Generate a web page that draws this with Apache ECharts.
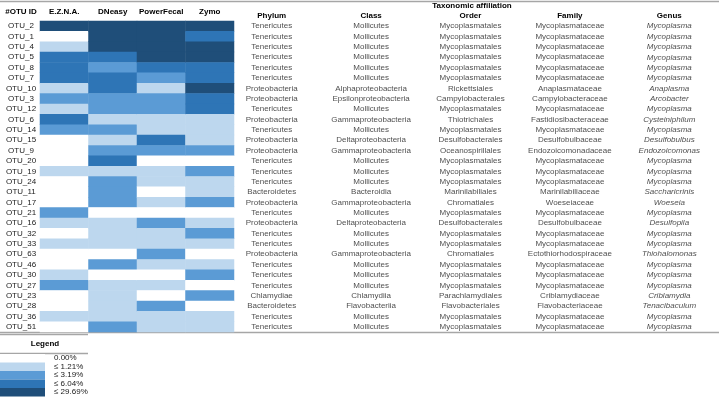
<!DOCTYPE html>
<html>
<head>
<meta charset="utf-8">
<script src="https://cdn.jsdelivr.net/npm/echarts@6/dist/echarts.min.js"></script>
<style>
	html, body { margin : 0; padding : 0; background : #fff; }
	#otu-chart { width : 719px; height : 402px; }
</style>
</head>
<body>
<div id="otu-chart"></div>
<script>
// rows of the table, top to bottom
var otuIds = ['OTU_2', 'OTU_1', 'OTU_4', 'OTU_5', 'OTU_8', 'OTU_7', 'OTU_10', 'OTU_3', 'OTU_12', 'OTU_6',
	'OTU_14', 'OTU_15', 'OTU_9', 'OTU_20', 'OTU_19', 'OTU_24', 'OTU_11', 'OTU_17', 'OTU_21', 'OTU_16',
	'OTU_32', 'OTU_33', 'OTU_63', 'OTU_46', 'OTU_30', 'OTU_27', 'OTU_23', 'OTU_28', 'OTU_36', 'OTU_51'];
var kitNames = ['E.Z.N.A.', 'DNeasy', 'PowerFecal', 'Zymo'];

// abundance class per OTU (0 = 0.00% ... 4 = <= 29.69%)
var eznaLevels = [4, 0, 1, 3, 3, 3, 1, 2, 1, 3, 2, 0, 0, 0, 1, 0, 0, 0, 2, 1, 0, 1, 0, 0, 1, 2, 0, 0, 1, 0];
var dneasyLevels = [4, 4, 4, 3, 2, 3, 3, 2, 2, 1, 2, 1, 2, 3, 1, 2, 2, 2, 0, 1, 1, 1, 0, 2, 0, 1, 1, 1, 1, 2];
var powerFecalLevels = [4, 4, 4, 4, 3, 2, 1, 2, 2, 1, 1, 3, 2, 0, 1, 1, 0, 1, 0, 2, 1, 1, 2, 1, 0, 1, 0, 2, 1, 1];
var zymoLevels = [4, 3, 4, 4, 3, 3, 4, 3, 3, 1, 1, 1, 2, 0, 2, 1, 1, 2, 0, 1, 2, 1, 0, 1, 2, 0, 2, 0, 1, 1];
var levelLabels = ['0.00%', '≤ 1.21%', '≤ 3.19%', '≤ 6.04%', '≤ 29.69%'];

var taxHeaders = ['Phylum', 'Class', 'Order', 'Family', 'Genus'];
var phylum = ['Tenericutes', 'Tenericutes', 'Tenericutes', 'Tenericutes', 'Tenericutes', 'Tenericutes',
	'Proteobacteria', 'Proteobacteria', 'Tenericutes', 'Proteobacteria', 'Tenericutes', 'Proteobacteria',
	'Proteobacteria', 'Tenericutes', 'Tenericutes', 'Tenericutes', 'Bacteroidetes', 'Proteobacteria',
	'Tenericutes', 'Proteobacteria', 'Tenericutes', 'Tenericutes', 'Proteobacteria', 'Tenericutes',
	'Tenericutes', 'Tenericutes', 'Chlamydiae', 'Bacteroidetes', 'Tenericutes', 'Tenericutes'];
var taxClass = ['Mollicutes', 'Mollicutes', 'Mollicutes', 'Mollicutes', 'Mollicutes', 'Mollicutes',
	'Alphaproteobacteria', 'Epsilonproteobacteria', 'Mollicutes', 'Gammaproteobacteria', 'Mollicutes',
	'Deltaproteobacteria', 'Gammaproteobacteria', 'Mollicutes', 'Mollicutes', 'Mollicutes', 'Bacteroidia',
	'Gammaproteobacteria', 'Mollicutes', 'Deltaproteobacteria', 'Mollicutes', 'Mollicutes',
	'Gammaproteobacteria', 'Mollicutes', 'Mollicutes', 'Mollicutes', 'Chlamydiia', 'Flavobacteriia',
	'Mollicutes', 'Mollicutes'];
var order = ['Mycoplasmatales', 'Mycoplasmatales', 'Mycoplasmatales', 'Mycoplasmatales', 'Mycoplasmatales',
	'Mycoplasmatales', 'Rickettsiales', 'Campylobacterales', 'Mycoplasmatales', 'Thiotrichales',
	'Mycoplasmatales', 'Desulfobacterales', 'Oceanospirillales', 'Mycoplasmatales', 'Mycoplasmatales',
	'Mycoplasmatales', 'Marinilabiliales', 'Chromatiales', 'Mycoplasmatales', 'Desulfobacterales',
	'Mycoplasmatales', 'Mycoplasmatales', 'Chromatiales', 'Mycoplasmatales', 'Mycoplasmatales',
	'Mycoplasmatales', 'Parachlamydiales', 'Flavobacteriales', 'Mycoplasmatales', 'Mycoplasmatales'];
var family = ['Mycoplasmataceae', 'Mycoplasmataceae', 'Mycoplasmataceae', 'Mycoplasmataceae', 'Mycoplasmataceae',
	'Mycoplasmataceae', 'Anaplasmataceae', 'Campylobacteraceae', 'Mycoplasmataceae', 'Fastidiosibacteraceae',
	'Mycoplasmataceae', 'Desulfobulbaceae', 'Endozoicomonadaceae', 'Mycoplasmataceae', 'Mycoplasmataceae',
	'Mycoplasmataceae', 'Marinilabiliaceae', 'Woeseiaceae', 'Mycoplasmataceae', 'Desulfobulbaceae',
	'Mycoplasmataceae', 'Mycoplasmataceae', 'Ectothiorhodospiraceae', 'Mycoplasmataceae', 'Mycoplasmataceae',
	'Mycoplasmataceae', 'Criblamydiaceae', 'Flavobacteriaceae', 'Mycoplasmataceae', 'Mycoplasmataceae'];
var genus = ['Mycoplasma', 'Mycoplasma', 'Mycoplasma', 'Mycoplasma', 'Mycoplasma', 'Mycoplasma',
	'Anaplasma', 'Arcobacter', 'Mycoplasma', 'Cysteiniphilum', 'Mycoplasma', 'Desulfobulbus',
	'Endozoicomonas', 'Mycoplasma', 'Mycoplasma', 'Mycoplasma', 'Saccharicrinis', 'Woeseia', 'Mycoplasma',
	'Desulfopila', 'Mycoplasma', 'Mycoplasma', 'Thiohalomonas', 'Mycoplasma', 'Mycoplasma', 'Mycoplasma',
	'Criblamydia', 'Tenacibaculum', 'Mycoplasma', 'Mycoplasma'];

var levelColors = ['#ffffff', '#bdd7ee', '#5b9bd5', '#2e75b6', '#1f4e79'];
var fontName = 'Liberation Sans';
var fontSize = 8;
var ruleColor = '#a6a6a6';

var kitLevels = [eznaLevels, dneasyLevels, powerFecalLevels, zymoLevels];
var heatData = [];
for (var k = 0; k < kitLevels.length; k++) {
	for (var i = 0; i < otuIds.length; i++) {
		heatData.push([k, i, kitLevels[k][i]]);
	}
}

var taxColumns = [phylum, taxClass, order, family, genus];
var taxSeries = [];
for (var c = 0; c < taxColumns.length; c++) {
	var items = [];
	for (var i = 0; i < otuIds.length; i++) {
		items.push({ name : taxColumns[c][i], value : [c, i] });
	}
	taxSeries.push({
		type : 'scatter',
		xAxisIndex : 1,
		yAxisIndex : 1,
		symbolSize : 0,
		silent : true,
		data : items,
		label : {
			show : true,
			position : 'inside',
			formatter : '{b}',
			color : '#1a1a1a',
			fontFamily : fontName,
			fontSize : fontSize,
			fontStyle : c == 4 ? 'italic' : 'normal'
		}
	});
}

var pieces = [];
for (var p = 0; p < levelLabels.length; p++) {
	pieces.push({ value : p, label : levelLabels[p], color : levelColors[p] });
}

function hline(y, x1, x2) {
	return {
		type : 'line',
		shape : { x1 : x1, y1 : y, x2 : x2, y2 : y },
		style : { stroke : ruleColor, lineWidth : 1.5 }
	};
}
function headText(str, x, y) {
	return {
		type : 'text',
		x : x,
		y : y,
		style : {
			text : str,
			fill : '#000',
			font : 'bold ' + fontSize + 'px ' + fontName,
			align : 'center',
			verticalAlign : 'middle'
		}
	};
}

var chart = echarts.init(document.getElementById('otu-chart'));
var option = {
	animation : false,
	grid : [
		{ left : 40, top : 21, width : 194, height : 311 },
		{ left : 222, top : 21, right : -3, height : 311 }
	],
	xAxis : [
		{
			type : 'category',
			gridIndex : 0,
			position : 'top',
			data : kitNames,
			axisLine : { show : false },
			axisTick : { show : false },
			axisLabel : { interval : 0, margin : 5, color : '#000', fontWeight : 'bold', fontFamily : fontName, fontSize : fontSize }
		},
		{
			type : 'category',
			gridIndex : 1,
			position : 'top',
			data : taxHeaders,
			axisLine : { show : false },
			axisTick : { show : false },
			axisLabel : { interval : 0, margin : 1, color : '#000', fontWeight : 'bold', fontFamily : fontName, fontSize : fontSize }
		}
	],
	yAxis : [
		{
			type : 'category',
			gridIndex : 0,
			inverse : true,
			data : otuIds,
			axisLine : { show : false },
			axisTick : { show : false },
			axisLabel : { interval : 0, margin : 19, align : 'center', color : '#1a1a1a', fontFamily : fontName, fontSize : fontSize }
		},
		{
			type : 'category',
			gridIndex : 1,
			inverse : true,
			data : otuIds,
			show : false
		}
	],
	visualMap : {
		type : 'piecewise',
		seriesIndex : 0,
		dimension : 2,
		pieces : pieces,
		inverse : true,
		left : 0,
		top : 354,
		itemWidth : 45,
		itemHeight : 8.5,
		itemGap : 0,
		itemSymbol : 'rect',
		textGap : 9,
		selectedMode : false,
		padding : 0,
		textStyle : { color : '#1a1a1a', fontFamily : fontName, fontSize : fontSize }
	},
	graphic : [
		hline(1.5, 0, 719),
		hline(332.5, 0, 719),
		hline(334.5, 0, 88),
		hline(353.5, 0, 88),
		headText('#OTU ID', 21, 11.5),
		headText('Taxonomic affiliation', 472, 6),
		headText('Legend', 45, 343.5)
	],
	series : [
		{
			type : 'heatmap',
			xAxisIndex : 0,
			yAxisIndex : 0,
			data : heatData,
			silent : true
		}
	].concat(taxSeries)
};
chart.setOption(option);
</script>
</body>
</html>
